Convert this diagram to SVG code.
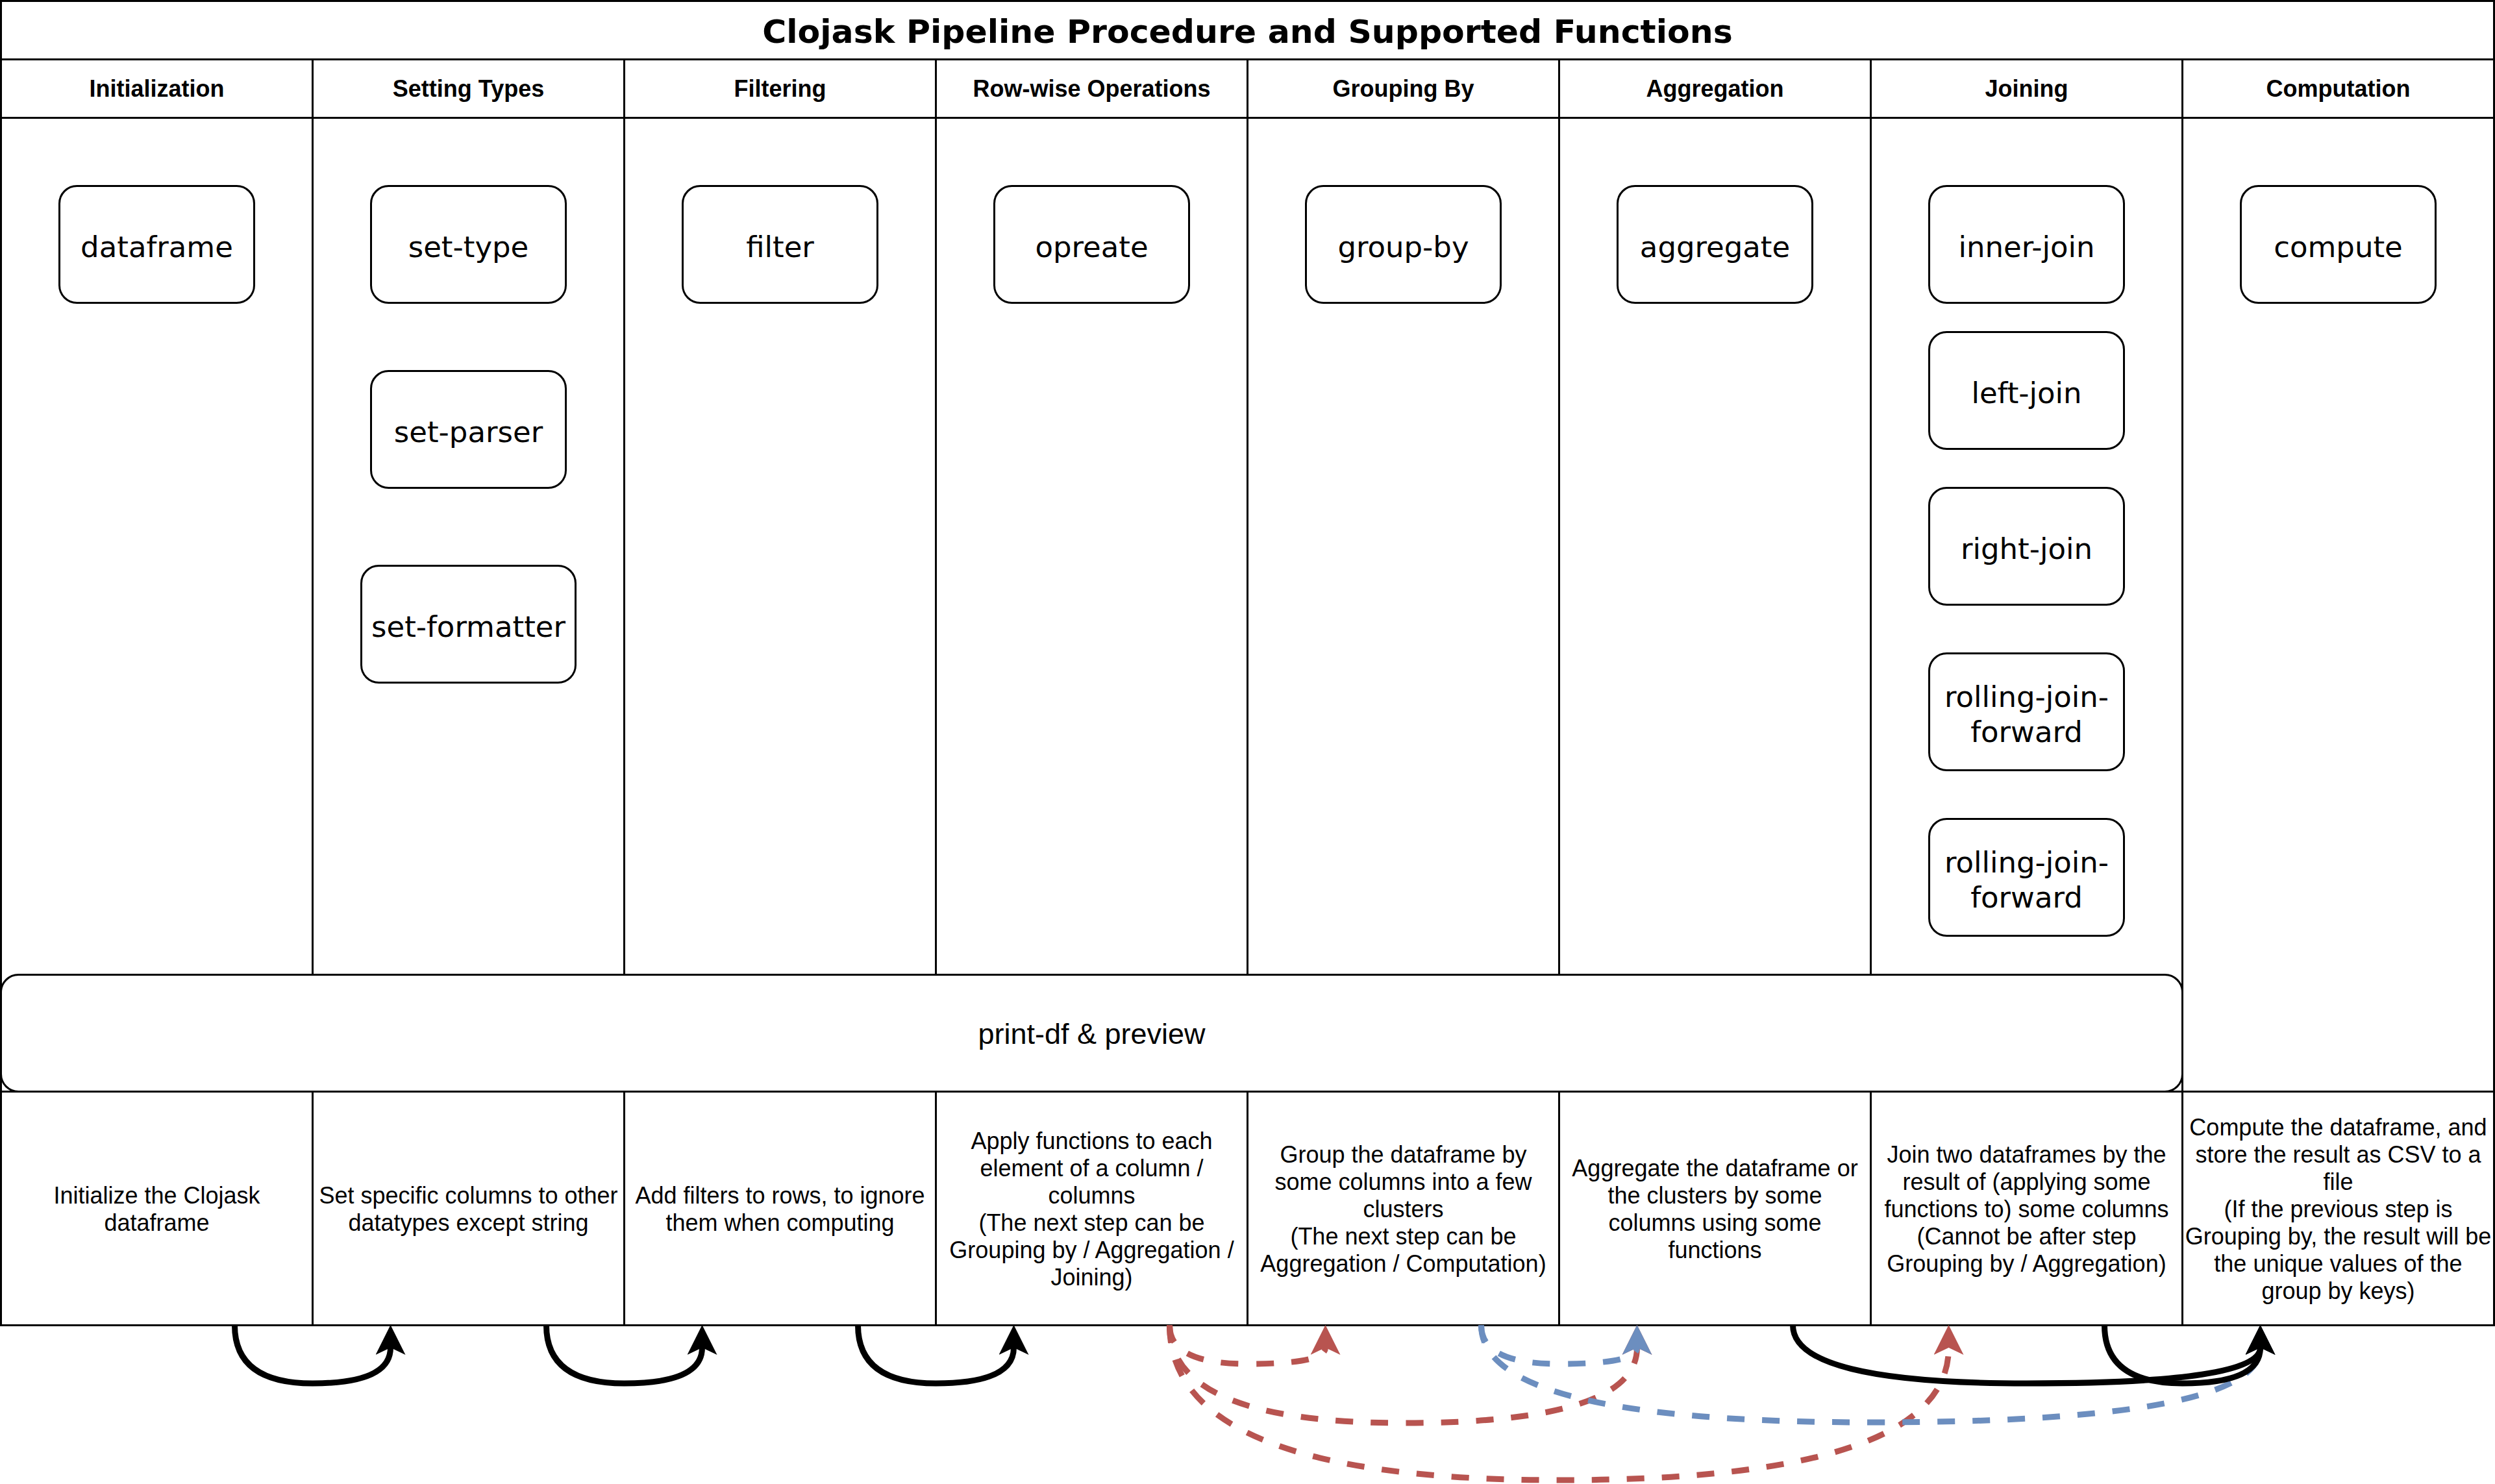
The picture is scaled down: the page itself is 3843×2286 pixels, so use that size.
<svg xmlns="http://www.w3.org/2000/svg" width="3843" height="2286" viewBox="0 0 3843 2286">
<style>
.cell{fill:#ffffff;stroke:#000000;stroke-width:3}
.node{fill:#ffffff;stroke:#000000;stroke-width:3}
.title{font-family:"DejaVu Sans",Verdana,sans-serif;font-weight:bold;font-size:50.5px;text-anchor:middle;fill:#000}
.hdr{font-family:"Liberation Sans",Arial,Helvetica,sans-serif;font-weight:bold;font-size:36px;text-anchor:middle;fill:#000}
.desc{font-family:"Liberation Sans",Arial,Helvetica,sans-serif;font-size:36px;text-anchor:middle;fill:#000}
.ntxt{font-family:"DejaVu Sans",Verdana,sans-serif;font-size:45px;text-anchor:middle;fill:#000}
.ptxt{font-family:"Liberation Sans",Arial,Helvetica,sans-serif;font-size:45px;text-anchor:middle;fill:#000}
.edge{fill:none;stroke-width:9}
.black{stroke:#000000;marker-end:url(#arrK)}
.red{stroke:#b85450;stroke-dasharray:27 27;marker-end:url(#arrR)}
.blue{stroke:#6c8ebf;stroke-dasharray:27 27;marker-end:url(#arrB)}
</style>
<defs>
<marker id="arrK" viewBox="0 0 46 46" markerUnits="userSpaceOnUse" markerWidth="46" markerHeight="46" refX="11" refY="23" orient="auto"><path d="M46,23 L0,0 L11,23 L0,46 Z" fill="#000000"/></marker>
<marker id="arrR" viewBox="0 0 46 46" markerUnits="userSpaceOnUse" markerWidth="46" markerHeight="46" refX="11" refY="23" orient="auto"><path d="M46,23 L0,0 L11,23 L0,46 Z" fill="#b85450"/></marker>
<marker id="arrB" viewBox="0 0 46 46" markerUnits="userSpaceOnUse" markerWidth="46" markerHeight="46" refX="11" refY="23" orient="auto"><path d="M46,23 L0,0 L11,23 L0,46 Z" fill="#6c8ebf"/></marker>
</defs>
<rect x="0" y="0" width="3843" height="2286" fill="#ffffff"/>

<g id="title">
<rect class="cell" x="1.5" y="1.5" width="3840" height="90"/>
<text class="title" x="1921.5" y="66">Clojask Pipeline Procedure and Supported Functions</text>
</g>

<g id="lane-initialization">
<rect class="cell" x="1.5" y="181.5" width="480" height="1500"/>
<rect class="cell" x="1.5" y="91.5" width="480" height="90"/>
<text class="hdr" x="241.5" y="149">Initialization</text>
</g>
<g id="lane-setting-types">
<rect class="cell" x="481.5" y="181.5" width="480" height="1500"/>
<rect class="cell" x="481.5" y="91.5" width="480" height="90"/>
<text class="hdr" x="721.5" y="149">Setting Types</text>
</g>
<g id="lane-filtering">
<rect class="cell" x="961.5" y="181.5" width="480" height="1500"/>
<rect class="cell" x="961.5" y="91.5" width="480" height="90"/>
<text class="hdr" x="1201.5" y="149">Filtering</text>
</g>
<g id="lane-row-wise">
<rect class="cell" x="1441.5" y="181.5" width="480" height="1500"/>
<rect class="cell" x="1441.5" y="91.5" width="480" height="90"/>
<text class="hdr" x="1681.5" y="149">Row-wise Operations</text>
</g>
<g id="lane-grouping">
<rect class="cell" x="1921.5" y="181.5" width="480" height="1500"/>
<rect class="cell" x="1921.5" y="91.5" width="480" height="90"/>
<text class="hdr" x="2161.5" y="149">Grouping By</text>
</g>
<g id="lane-aggregation">
<rect class="cell" x="2401.5" y="181.5" width="480" height="1500"/>
<rect class="cell" x="2401.5" y="91.5" width="480" height="90"/>
<text class="hdr" x="2641.5" y="149">Aggregation</text>
</g>
<g id="lane-joining">
<rect class="cell" x="2881.5" y="181.5" width="480" height="1500"/>
<rect class="cell" x="2881.5" y="91.5" width="480" height="90"/>
<text class="hdr" x="3121.5" y="149">Joining</text>
</g>
<g id="lane-computation">
<rect class="cell" x="3361.5" y="181.5" width="480" height="1500"/>
<rect class="cell" x="3361.5" y="91.5" width="480" height="90"/>
<text class="hdr" x="3601.5" y="149">Computation</text>
</g>

<g id="desc-initialization">
<rect class="cell" x="1.5" y="1681.5" width="480" height="360"/>
<text class="desc" x="241.5"><tspan x="241.5" y="1854">Initialize the Clojask</tspan><tspan x="241.5" y="1896">dataframe</tspan></text>
</g>
<g id="desc-setting-types">
<rect class="cell" x="481.5" y="1681.5" width="480" height="360"/>
<text class="desc" x="721.5"><tspan x="721.5" y="1854">Set specific columns to other</tspan><tspan x="721.5" y="1896">datatypes except string</tspan></text>
</g>
<g id="desc-filtering">
<rect class="cell" x="961.5" y="1681.5" width="480" height="360"/>
<text class="desc" x="1201.5"><tspan x="1201.5" y="1854">Add filters to rows, to ignore</tspan><tspan x="1201.5" y="1896">them when computing</tspan></text>
</g>
<g id="desc-row-wise">
<rect class="cell" x="1441.5" y="1681.5" width="480" height="360"/>
<text class="desc" x="1681.5"><tspan x="1681.5" y="1770">Apply functions to each</tspan><tspan x="1681.5" y="1812">element of a column /</tspan><tspan x="1681.5" y="1854">columns</tspan><tspan x="1681.5" y="1896">(The next step can be</tspan><tspan x="1681.5" y="1938">Grouping by / Aggregation /</tspan><tspan x="1681.5" y="1980">Joining)</tspan></text>
</g>
<g id="desc-grouping">
<rect class="cell" x="1921.5" y="1681.5" width="480" height="360"/>
<text class="desc" x="2161.5"><tspan x="2161.5" y="1791">Group the dataframe by</tspan><tspan x="2161.5" y="1833">some columns into a few</tspan><tspan x="2161.5" y="1875">clusters</tspan><tspan x="2161.5" y="1917">(The next step can be</tspan><tspan x="2161.5" y="1959">Aggregation / Computation)</tspan></text>
</g>
<g id="desc-aggregation">
<rect class="cell" x="2401.5" y="1681.5" width="480" height="360"/>
<text class="desc" x="2641.5"><tspan x="2641.5" y="1812">Aggregate the dataframe or</tspan><tspan x="2641.5" y="1854">the clusters by some</tspan><tspan x="2641.5" y="1896">columns using some</tspan><tspan x="2641.5" y="1938">functions</tspan></text>
</g>
<g id="desc-joining">
<rect class="cell" x="2881.5" y="1681.5" width="480" height="360"/>
<text class="desc" x="3121.5"><tspan x="3121.5" y="1791">Join two dataframes by the</tspan><tspan x="3121.5" y="1833">result of (applying some</tspan><tspan x="3121.5" y="1875">functions to) some columns</tspan><tspan x="3121.5" y="1917">(Cannot be after step</tspan><tspan x="3121.5" y="1959">Grouping by / Aggregation)</tspan></text>
</g>
<g id="desc-computation">
<rect class="cell" x="3361.5" y="1681.5" width="480" height="360"/>
<text class="desc" x="3601.5"><tspan x="3601.5" y="1749">Compute the dataframe, and</tspan><tspan x="3601.5" y="1791">store the result as CSV to a</tspan><tspan x="3601.5" y="1833">file</tspan><tspan x="3601.5" y="1875">(If the previous step is</tspan><tspan x="3601.5" y="1917">Grouping by, the result will be</tspan><tspan x="3601.5" y="1959">the unique values of the</tspan><tspan x="3601.5" y="2001">group by keys)</tspan></text>
</g>

<g id="print-df">
<rect class="node" x="1.5" y="1501.5" width="3360" height="180" rx="27" ry="27"/>
<text class="ptxt" x="1681.5" y="1608">print-df &amp; preview</text>
</g>

<g id="node-dataframe">
<rect class="node" x="91.5" y="286.5" width="300" height="180" rx="27" ry="27"/>
<text class="ntxt" x="241.5" y="396">dataframe</text>
</g>
<g id="node-set-type">
<rect class="node" x="571.5" y="286.5" width="300" height="180" rx="27" ry="27"/>
<text class="ntxt" x="721.5" y="396">set-type</text>
</g>
<g id="node-set-parser">
<rect class="node" x="571.5" y="571.5" width="300" height="180" rx="27" ry="27"/>
<text class="ntxt" x="721.5" y="681">set-parser</text>
</g>
<g id="node-set-formatter">
<rect class="node" x="556.5" y="871.5" width="330" height="180" rx="27" ry="27"/>
<text class="ntxt" x="721.5" y="981">set-formatter</text>
</g>
<g id="node-filter">
<rect class="node" x="1051.5" y="286.5" width="300" height="180" rx="27" ry="27"/>
<text class="ntxt" x="1201.5" y="396">filter</text>
</g>
<g id="node-opreate">
<rect class="node" x="1531.5" y="286.5" width="300" height="180" rx="27" ry="27"/>
<text class="ntxt" x="1681.5" y="396">opreate</text>
</g>
<g id="node-group-by">
<rect class="node" x="2011.5" y="286.5" width="300" height="180" rx="27" ry="27"/>
<text class="ntxt" x="2161.5" y="396">group-by</text>
</g>
<g id="node-aggregate">
<rect class="node" x="2491.5" y="286.5" width="300" height="180" rx="27" ry="27"/>
<text class="ntxt" x="2641.5" y="396">aggregate</text>
</g>
<g id="node-inner-join">
<rect class="node" x="2971.5" y="286.5" width="300" height="180" rx="27" ry="27"/>
<text class="ntxt" x="3121.5" y="396">inner-join</text>
</g>
<g id="node-left-join">
<rect class="node" x="2971.5" y="511.5" width="300" height="180" rx="27" ry="27"/>
<text class="ntxt" x="3121.5" y="621">left-join</text>
</g>
<g id="node-right-join">
<rect class="node" x="2971.5" y="751.5" width="300" height="180" rx="27" ry="27"/>
<text class="ntxt" x="3121.5" y="861">right-join</text>
</g>
<g id="node-rolling-join-forward-1">
<rect class="node" x="2971.5" y="1006.5" width="300" height="180" rx="27" ry="27"/>
<text class="ntxt" x="3121.5"><tspan x="3121.5" y="1089">rolling-join-</tspan><tspan x="3121.5" y="1143">forward</tspan></text>
</g>
<g id="node-rolling-join-forward-2">
<rect class="node" x="2971.5" y="1261.5" width="300" height="180" rx="27" ry="27"/>
<text class="ntxt" x="3121.5"><tspan x="3121.5" y="1344">rolling-join-</tspan><tspan x="3121.5" y="1398">forward</tspan></text>
</g>
<g id="node-compute">
<rect class="node" x="3451.5" y="286.5" width="300" height="180" rx="27" ry="27"/>
<text class="ntxt" x="3601.5" y="396">compute</text>
</g>

<g id="connectors">
<path class="edge black" d="M361.5,2041.5 Q361.5,2131 481.5,2131 Q601.5,2131 601.5,2076"/>
<path class="edge black" d="M841.5,2041.5 Q841.5,2131 961.5,2131 Q1081.5,2131 1081.5,2076"/>
<path class="edge black" d="M1321.5,2041.5 Q1321.5,2131 1441.5,2131 Q1561.5,2131 1561.5,2076"/>
<path class="edge red" d="M1801.5,2041.5 Q1801.5,2101 1921.5,2101 Q2041.5,2101 2041.5,2076"/>
<path class="edge red" d="M1801.5,2041.5 Q1801.5,2192 2161.5,2192 Q2521.5,2192 2521.5,2076"/>
<path class="edge red" d="M1801.5,2041.5 Q1801.5,2280 2401.5,2280 Q3001.5,2280 3001.5,2076"/>
<path class="edge blue" d="M2281.5,2041.5 Q2281.5,2101 2401.5,2101 Q2521.5,2101 2521.5,2076"/>
<path class="edge blue" d="M2281.5,2041.5 Q2281.5,2191 2881.5,2191 Q3481.5,2191 3481.5,2076"/>
<path class="edge black" d="M2761.5,2041.5 Q2761.5,2131 3121.5,2131 Q3481.5,2131 3481.5,2076"/>
<path class="edge black" d="M3241.5,2041.5 Q3241.5,2131 3361.5,2131 Q3481.5,2131 3481.5,2076"/>
</g>
</svg>
